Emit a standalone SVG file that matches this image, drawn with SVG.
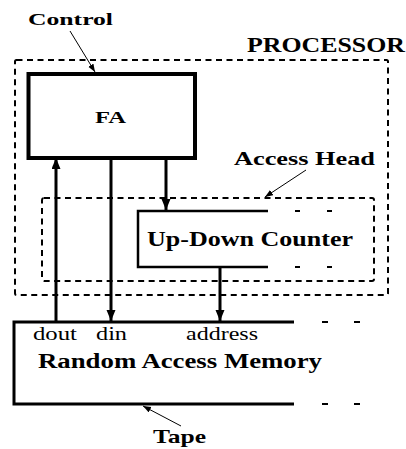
<svg xmlns="http://www.w3.org/2000/svg" width="406" height="449" viewBox="0 0 406 449">
  <style>
    .lbl { font-family: "Liberation Serif", "Times New Roman", serif; font-weight: bold; fill: #000; }
    .port { font-family: "Liberation Serif", "Times New Roman", serif; font-weight: normal; fill: #000; }
    .dash { fill: none; stroke: #000; stroke-width: 2; stroke-dasharray: 6 4.5; }
    .box { fill: none; stroke: #000; }
    .bus { fill: none; stroke: #000; stroke-width: 3; }
    .ptr { fill: none; stroke: #000; stroke-width: 1; }
    .tick { stroke: #000; stroke-width: 2; }
  </style>
  <defs>
    <marker id="big" markerUnits="userSpaceOnUse" markerWidth="12" markerHeight="12" refX="11" refY="4.5" orient="auto">
      <path d="M0,0 L11,4.5 L0,9 Z" fill="#000"/>
    </marker>
    <marker id="small" markerUnits="userSpaceOnUse" markerWidth="10" markerHeight="10" refX="8" refY="3" orient="auto">
      <path d="M0,0 L8,3 L0,6 Z" fill="#000"/>
    </marker>
  </defs>

  <rect id="processor" class="dash" x="15" y="60" width="373" height="235" rx="1.5"/>
  <text class="lbl" x="247" y="52" font-size="20" textLength="158" lengthAdjust="spacingAndGlyphs">PROCESSOR</text>

  <g id="access-head">
    <rect class="dash" x="42" y="198" width="332" height="83" rx="2"/>
    <text class="lbl" x="234" y="165" font-size="19" textLength="141" lengthAdjust="spacingAndGlyphs">Access Head</text>
  </g>

  <g id="fa">
    <rect class="box" x="28.5" y="74" width="166.5" height="84" stroke-width="4"/>
    <text class="lbl" x="95" y="123" font-size="17" textLength="31" lengthAdjust="spacingAndGlyphs">FA</text>
  </g>

  <g id="counter">
    <path class="box" d="M268,211 H138 V267 H268" stroke-width="2.5"/>
    <line class="tick" x1="295" y1="211" x2="300" y2="211"/>
    <line class="tick" x1="327" y1="211" x2="332" y2="211"/>
    <line class="tick" x1="295" y1="267" x2="300" y2="267"/>
    <line class="tick" x1="327" y1="267" x2="332" y2="267"/>
    <text class="lbl" x="147" y="246" font-size="20" textLength="206" lengthAdjust="spacingAndGlyphs">Up-Down Counter</text>
  </g>

  <g id="ram">
    <path class="box" d="M294,322 H14 V404 H294" stroke-width="3"/>
    <line class="tick" x1="322" y1="322" x2="328" y2="322"/>
    <line class="tick" x1="354" y1="322" x2="360" y2="322"/>
    <line class="tick" x1="322" y1="404" x2="328" y2="404"/>
    <line class="tick" x1="354" y1="404" x2="360" y2="404"/>
    <text class="port" x="33" y="340" font-size="19" textLength="44" lengthAdjust="spacingAndGlyphs">dout</text>
    <text class="port" x="96" y="340" font-size="19" textLength="31" lengthAdjust="spacingAndGlyphs">din</text>
    <text class="port" x="186" y="340" font-size="19" textLength="72" lengthAdjust="spacingAndGlyphs">address</text>
    <text class="lbl" x="38" y="368" font-size="20" textLength="284" lengthAdjust="spacingAndGlyphs">Random Access Memory</text>
  </g>

  <g id="callouts">
    <text class="lbl" x="28" y="25" font-size="17" textLength="85" lengthAdjust="spacingAndGlyphs">Control</text>
    <text class="lbl" x="153" y="443" font-size="19" textLength="53" lengthAdjust="spacingAndGlyphs">Tape</text>
  </g>

  <g id="connectors">
    <line class="bus" x1="56" y1="322" x2="56" y2="158" marker-end="url(#big)"/>
    <line class="bus" x1="111" y1="158" x2="111" y2="321" marker-end="url(#big)"/>
    <line class="bus" x1="166" y1="158" x2="166" y2="210" marker-end="url(#big)"/>
    <line class="bus" x1="220" y1="267" x2="220" y2="321" marker-end="url(#big)"/>
    <line class="ptr" x1="70" y1="31" x2="95" y2="72" marker-end="url(#small)"/>
    <line class="ptr" x1="306" y1="170" x2="265" y2="197" marker-end="url(#small)"/>
    <line class="ptr" x1="181" y1="426" x2="143" y2="406" marker-end="url(#small)"/>
  </g>
</svg>
